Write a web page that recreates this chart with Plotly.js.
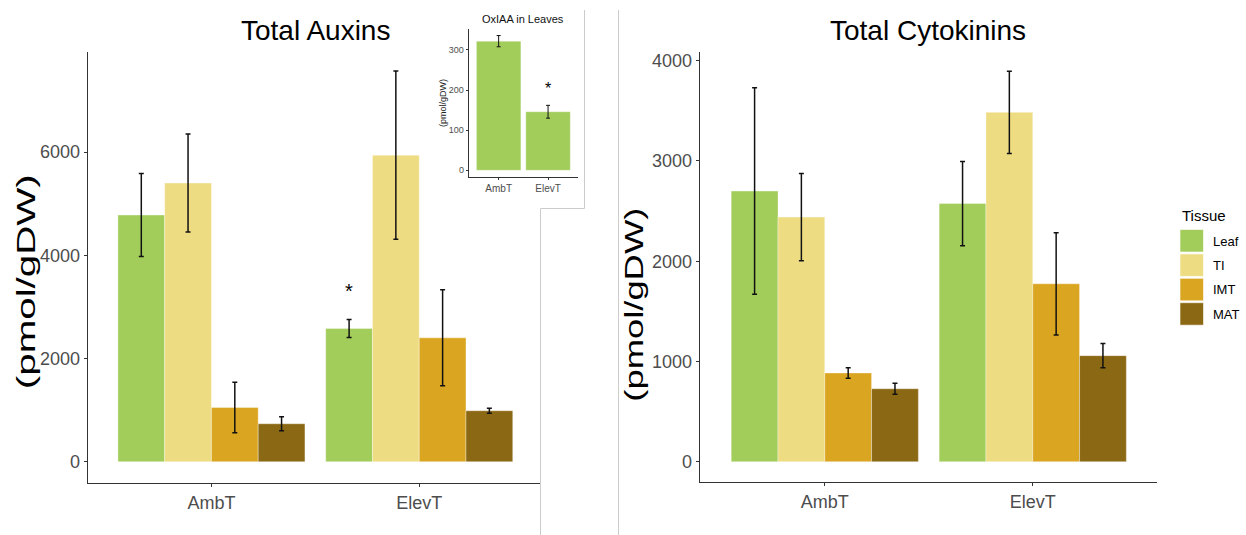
<!DOCTYPE html>
<html>
<head>
<meta charset="utf-8">
<script src="https://cdn.plot.ly/plotly-3.0.1.min.js"></script>
<style>
  html, body { margin: 0; padding: 0; background: #fff; }
  #chart { width: 1246px; height: 535px; }
</style>
</head>
<body>
<div id="chart"></div>
<script>
// ---- data ----
const treatments = ['AmbT', 'ElevT'];
const tissues = ['Leaf', 'TI', 'IMT', 'MAT'];

// Total auxins (pmol/gDW), per tissue: [AmbT, ElevT]
const auxinLeaf = [4780, 2580];
const auxinTI   = [5400, 5940];
const auxinIMT  = [1050, 2400];
const auxinMAT  = [735, 988];
const auxinLeafErr = [805, 175];
const auxinTIErr   = [950, 1630];
const auxinIMTErr  = [490, 930];
const auxinMATErr  = [135, 50];

// Total cytokinins (pmol/gDW)
const cytoLeaf = [2700, 2575];
const cytoTI   = [2440, 3485];
const cytoIMT  = [885, 1775];
const cytoMAT  = [728, 1058];
const cytoLeafErr = [1030, 420];
const cytoTIErr   = [435, 410];
const cytoIMTErr  = [53, 510];
const cytoMATErr  = [55, 120];

// OxIAA in leaves (pmol/gDW)
const oxiaa    = [322, 146];
const oxiaaErr = [14, 16];

// significance marks: [label, treatment index, height]
const auxinSig = ['*', 1, 3380];
const oxiaaSig = ['*', 1, 212];

// ---- styling ----
const W = 1246, H = 535;
const px = v => v / W;
const py = v => 1 - v / H;
const tissueColors = { Leaf: '#A2CD5A', TI: '#EEDC82', IMT: '#DAA520', MAT: '#8B6914' };
const FONT = 'Liberation Sans, Arial, sans-serif';

function barTrace(name, y, err, xa, ya) {
  return {
    type: 'bar', name: name, x: treatments, y: y,
    xaxis: xa, yaxis: ya, showlegend: false,
    marker: { color: tissueColors[name], line: { color: 'rgba(255,255,255,0.35)', width: 1 } },
    error_y: { type: 'data', array: err, visible: true, color: '#111', thickness: 1.5, width: 2.5 },
    hoverinfo: 'x+y'
  };
}

const traces = [
  barTrace('Leaf', auxinLeaf, auxinLeafErr, 'x', 'y'),
  barTrace('TI', auxinTI, auxinTIErr, 'x', 'y'),
  barTrace('IMT', auxinIMT, auxinIMTErr, 'x', 'y'),
  barTrace('MAT', auxinMAT, auxinMATErr, 'x', 'y'),
  barTrace('Leaf', cytoLeaf, cytoLeafErr, 'x2', 'y2'),
  barTrace('TI', cytoTI, cytoTIErr, 'x2', 'y2'),
  barTrace('IMT', cytoIMT, cytoIMTErr, 'x2', 'y2'),
  barTrace('MAT', cytoMAT, cytoMATErr, 'x2', 'y2'),
  {
    type: 'bar', x: treatments, y: oxiaa, xaxis: 'x3', yaxis: 'y3', showlegend: false,
    marker: { color: tissueColors.Leaf, line: { color: 'rgba(255,255,255,0.35)', width: 1 } },
    error_y: { type: 'data', array: oxiaaErr, visible: true, color: '#111', thickness: 1, width: 2 }
  }
];

function xAxis(domain, range, size) {
  return {
    type: 'category', domain: domain, range: range, fixedrange: true,
    showline: true, linecolor: '#333', linewidth: 1.3, mirror: false,
    ticks: 'outside', ticklen: size > 12 ? 3 : 2, tickcolor: '#333', tickwidth: 1,
    showgrid: false, zeroline: false,
    tickfont: { family: FONT, size: size, color: '#4d4d4d' }
  };
}
function yAxis(domain, range, tickvals, size, anchor) {
  return {
    domain: domain, range: range, anchor: anchor, fixedrange: true,
    tickvals: tickvals, ticktext: tickvals.map(String),
    showline: true, linecolor: '#333', linewidth: 1.3,
    ticks: 'outside', ticklen: size > 12 ? 3 : 2, tickcolor: '#333', tickwidth: 1,
    showgrid: false, zeroline: false,
    tickfont: { family: FONT, size: size, color: '#4d4d4d' }
  };
}

// group offset of a tissue bar inside its treatment slot (4 bars across 0.9)
const slot = i => -0.45 + 0.225 * (i + 0.5);

function paperText(text, x, y, size, extra) {
  return Object.assign({
    text: text, xref: 'paper', yref: 'paper', x: px(x), y: py(y),
    xanchor: 'center', yanchor: 'middle', showarrow: false,
    font: { family: FONT, size: size, color: '#000' }
  }, extra || {});
}

const annotations = [
  paperText('Total Auxins', 315, 30, 28),
  paperText('Total Cytokinins', 928, 30, 28),
  paperText('OxIAA in Leaves', 523, 19, 11, { font: { family: FONT, size: 11, color: '#111' } }),
  paperText('(pmol/gDW)', 26, 282, 26, { textangle: -90 }),
  paperText('(pmol/gDW)', 634, 305, 26, { textangle: -90 }),
  paperText('(pmol/gDW)', 443, 103, 9, { textangle: -90, font: { family: FONT, size: 9, color: '#222' } }),
  { text: auxinSig[0], xref: 'x', yref: 'y', x: auxinSig[1] + slot(0), y: auxinSig[2],
    xanchor: 'center', yanchor: 'middle', yshift: -4, showarrow: false,
    font: { family: FONT, size: 20, color: '#000' } },
  { text: oxiaaSig[0], xref: 'x3', yref: 'y3', x: oxiaaSig[1], y: oxiaaSig[2],
    xanchor: 'center', yanchor: 'middle', yshift: -3, showarrow: false,
    font: { family: FONT, size: 16, color: '#000' } },
  paperText('Tissue', 1180, 216, 15, { xanchor: 'left' })
];
// the large axis titles are drawn in a tall (vertically stretched) face
const titleStretch = { 3: 1.55, 4: 1.4 };

// panel separators
const frameLine = { color: '#cccccc', width: 1 };
const shapes = [
  { type: 'line', xref: 'paper', yref: 'paper', x0: px(584.5), x1: px(584.5), y0: py(10), y1: py(208.5), line: frameLine },
  { type: 'line', xref: 'paper', yref: 'paper', x0: px(540.5), x1: px(584.5), y0: py(208.5), y1: py(208.5), line: frameLine },
  { type: 'line', xref: 'paper', yref: 'paper', x0: px(540.5), x1: px(540.5), y0: py(208.5), y1: 0, line: frameLine },
  { type: 'line', xref: 'paper', yref: 'paper', x0: px(618.5), x1: px(618.5), y0: py(10), y1: 0, line: frameLine }
];

// legend keys
tissues.forEach((t, i) => {
  const top = 229.5 + i * 24.4;
  shapes.push({ type: 'rect', xref: 'paper', yref: 'paper',
    x0: px(1180), x1: px(1203.5), y0: py(top), y1: py(top + 22.5),
    fillcolor: tissueColors[t], line: { color: 'rgba(255,255,255,0.6)', width: 1 } });
  annotations.push(paperText(t, 1211, top + 11.5, 13, { xanchor: 'left' }));
});

const layout = {
  width: W, height: H, autosize: false,
  margin: { l: 0, r: 0, t: 0, b: 0, pad: 0 },
  paper_bgcolor: '#fff', plot_bgcolor: 'rgba(0,0,0,0)',
  barmode: 'group', bargap: 0.1, bargroupgap: 0,
  showlegend: false,
  xaxis:  Object.assign(xAxis([px(88), px(541)], [-0.594, 1.586], 18), { anchor: 'y' }),
  yaxis:  yAxis([py(482.7), py(52)], [-407, 7940], [0, 2000, 4000, 6000], 18, 'x'),
  xaxis2: Object.assign(xAxis([px(700), px(1156.7)], [-0.6, 1.596], 18), { anchor: 'y2' }),
  yaxis2: yAxis([py(481.7), py(51.7)], [-199.5, 4090], [0, 1000, 2000, 3000, 4000], 18, 'x2'),
  xaxis3: Object.assign(xAxis([px(469), px(577.7)], [-0.6, 1.6], 10), { anchor: 'y3' }),
  yaxis3: yAxis([py(177), py(29.3)], [-16.7, 351.6], [0, 100, 200, 300], 9, 'x3'),
  annotations: annotations,
  shapes: shapes
};

Plotly.newPlot('chart', traces, layout, { displayModeBar: false, staticPlot: true }).then(gd => {
  Object.keys(titleStretch).forEach(idx => {
    const t = gd.querySelector('g.annotation[data-index="' + idx + '"] text.annotation-text');
    if (!t) return;
    const b = t.getBBox();
    const cx = b.x + b.width / 2, cy = b.y + b.height / 2;
    t.setAttribute('transform',
      'translate(' + cx + ',' + cy + ') scale(' + titleStretch[idx] + ',1) translate(' + (-cx) + ',' + (-cy) + ')');
  });
});
</script>
</body>
</html>
